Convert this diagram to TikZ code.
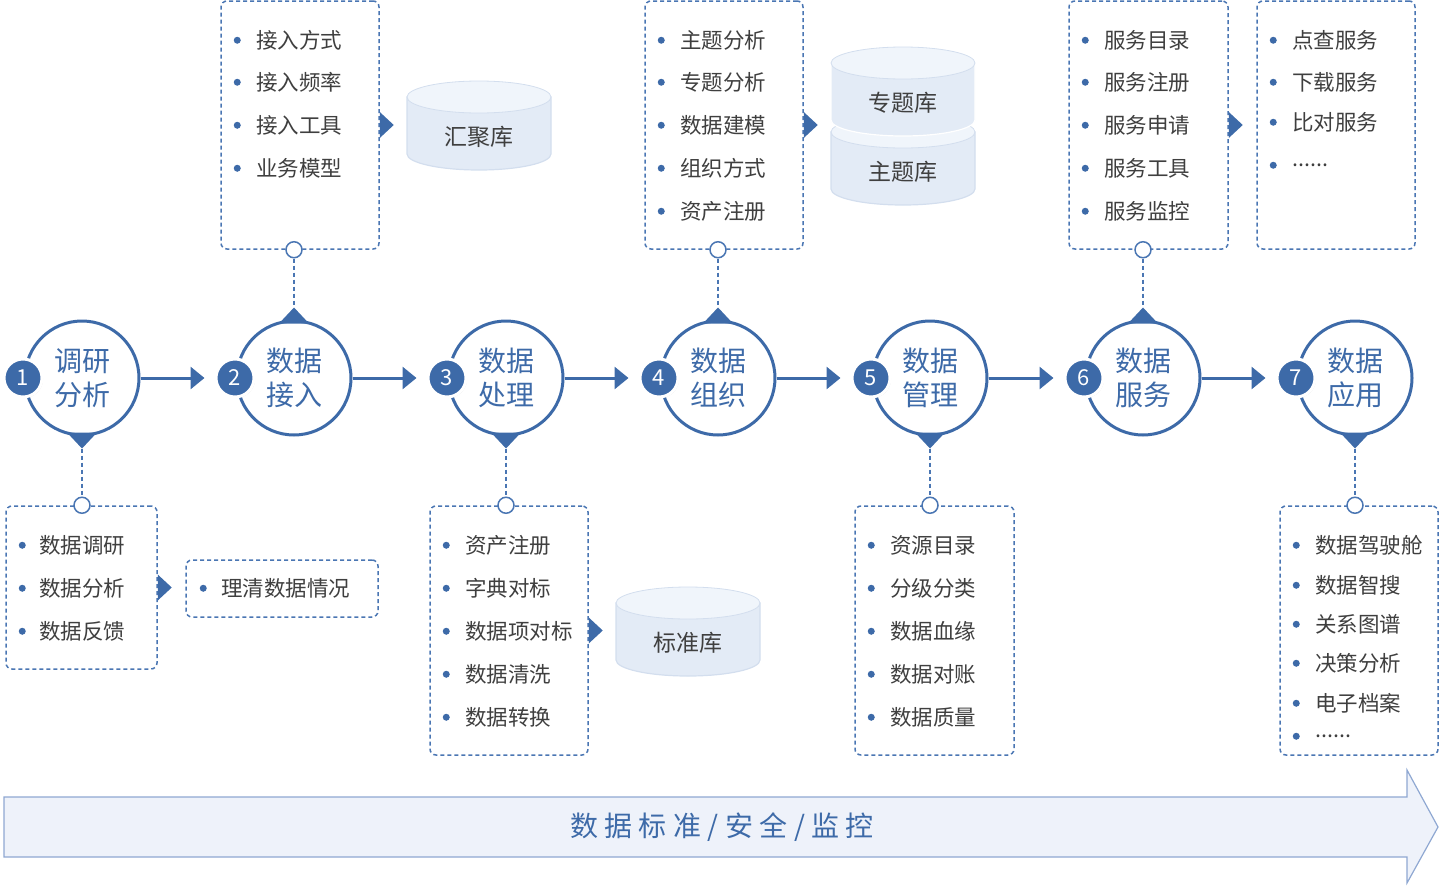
\documentclass[tikz,border=0pt]{standalone}
\usepackage{fontspec}
\setmainfont{Noto Sans CJK SC}
\newfontfamily\titlefont[LetterSpace=23]{Noto Sans CJK SC}
\usetikzlibrary{calc,arrows.meta,shadows}
\definecolor{mainblue}{HTML}{3D6AA8}
\definecolor{dashblue}{HTML}{4A76B3}
\definecolor{itemgray}{HTML}{3F3F3F}
\definecolor{cylbody}{HTML}{E3EBF6}
\definecolor{cyltop}{HTML}{F0F5FB}
\definecolor{cyledge}{HTML}{D3DEEE}
\definecolor{bandfill}{HTML}{EEF2FA}
\definecolor{bandedge}{HTML}{8FA8D2}
\newcommand{\more}{......}

\tikzset{
  stage/.style={circle, draw=mainblue, line width=3pt, fill=white, minimum size=114pt, inner sep=0pt,
    text=mainblue, align=center, font=\fontsize{28}{34}\selectfont},
  badge/.style={circle, fill=mainblue, draw=white, line width=3pt, minimum size=38pt, inner sep=0pt,
    text=white, font=\fontsize{22}{22}\selectfont, drop shadow={opacity=.3, shadow xshift=1pt, shadow yshift=-1pt}},
  dbox/.style={draw=dashblue, dash pattern=on 4pt off 3pt, line width=1.5pt, rounded corners=6pt,
    fill=white, inner sep=0pt},
  item/.style={anchor=west, inner sep=0pt, text=itemgray, font=\fontsize{21.5}{21.5}\selectfont},
  knob/.style={circle, draw=dashblue, fill=white, line width=1.5pt, minimum size=16pt, inner sep=0pt},
  dline/.style={draw=dashblue, dash pattern=on 4pt off 3pt, line width=1.5pt},
  flow/.style={draw=mainblue, line width=3pt, -{Triangle[length=14pt,width=22pt]}},
  dbtext/.style={text=itemgray, inner sep=0pt, font=\fontsize{23}{23}\selectfont},
}

\begin{document}
\begin{tikzpicture}[x=1pt,y=-1pt]
\useasboundingbox (0,0) rectangle (1440,886);

% band at the bottom
\draw[fill=bandfill, draw=bandedge, line width=1.2pt] (4,797) -- (1407,797) -- (1407,770) -- (1438,827)
  -- (1407,883) -- (1407,857) -- (4,857) -- cycle;
\node[text=mainblue, font=\titlefont\fontsize{28}{28}\selectfont] (band) at (722,827) {数据标准/安全/监控};

% stages
\foreach \i/\x/\txt in {1/82/调研\\分析, 2/294/数据\\接入, 3/506/数据\\处理, 4/718/数据\\组织,
                        5/930/数据\\管理, 6/1143/数据\\服务, 7/1355/数据\\应用}{
  \node[stage] (c\i) at (\x,378) {\txt};
  \node[badge] (n\i) at (\x-59,378) {\i};
}
\foreach \i/\j in {1/2,2/3,3/4,4/5,5/6,6/7}
  \draw[flow, shorten >=10pt] (c\i.east) -- (n\j.west);

% markers under and over the stages
\foreach \i in {1,3,5,7}{
  \fill[mainblue] ($(c\i.south)+(-15,-4)$) -- ($(c\i.south)+(15,-4)$) -- ($(c\i.south)+(0,12)$) -- cycle;
  \coordinate (t\i) at ($(c\i.south)+(0,12)$);
}
\foreach \i in {2,4,6}{
  \fill[mainblue] ($(c\i.north)+(-15,4)$) -- ($(c\i.north)+(15,4)$) -- ($(c\i.north)+(0,-12)$) -- cycle;
  \coordinate (t\i) at ($(c\i.north)+(0,-12)$);
}

% boxes above
\node[dbox, minimum width=158pt, minimum height=248pt] (box2) at (300,125) {};
\node[dbox, minimum width=158pt, minimum height=248pt] (box4) at (724,125) {};
\node[dbox, minimum width=159pt, minimum height=248pt] (box6) at (1148.5,125) {};
\node[dbox, minimum width=158pt, minimum height=248pt] (box6b) at (1336,125) {};
% boxes below
\node[dbox, minimum width=151pt, minimum height=163pt] (box1) at (81.5,587.5) {};
\node[dbox, minimum width=192pt, minimum height=57pt] (box1b) at (282,588.5) {};
\node[dbox, minimum width=158pt, minimum height=249pt] (box3) at (509,630.5) {};
\node[dbox, minimum width=159pt, minimum height=249pt] (box5) at (934.5,630.5) {};
\node[dbox, minimum width=158pt, minimum height=249pt] (box7) at (1359,630.5) {};

% dashed links
\foreach \i in {2,4,6}{
  \node[knob] (k\i) at (c\i |- box\i.south) {};
  \draw[dline] (k\i.south) -- (t\i);
}
\foreach \i in {1,3,5,7}{
  \node[knob] (k\i) at (c\i |- box\i.north) {};
  \draw[dline] (t\i) -- (k\i.north);
}

% items
\foreach \b/\t/\yy in {box2/接入方式/40, box2/接入频率/82, box2/接入工具/125, box2/业务模型/168,
    box4/主题分析/40, box4/专题分析/82, box4/数据建模/125, box4/组织方式/168, box4/资产注册/211,
    box6/服务目录/40, box6/服务注册/82, box6/服务申请/125, box6/服务工具/168, box6/服务监控/211,
    box6b/点查服务/40, box6b/下载服务/82, box6b/比对服务/122, box6b/\more/165,
    box3/资产注册/40, box3/字典对标/83, box3/数据项对标/126, box3/数据清洗/169, box3/数据转换/212,
    box5/资源目录/40, box5/分级分类/83, box5/数据血缘/126, box5/数据对账/169, box5/数据质量/212,
    box7/数据驾驶舱/40, box7/数据智搜/80, box7/关系图谱/119, box7/决策分析/158, box7/电子档案/198, box7/\more/231}{
  \fill[mainblue] ($(\b.north west)+(17,\yy)$) circle (3.5pt);
  \node[item] (\b-\yy) at ($(\b.north west)+(36,\yy)$) {\t};
}
\foreach \t/\yy in {数据调研/40, 数据分析/83, 数据反馈/126}{
  \fill[mainblue] ($(box1.north west)+(17,\yy)$) circle (3.5pt);
  \node[item] (box1-\yy) at ($(box1.north west)+(34,\yy)$) {\t};
}
\fill[mainblue] ($(box1b.north west)+(18,29)$) circle (3.5pt);
\node[item] (box1b-1) at ($(box1b.north west)+(36,29)$) {理清数据情况};

% side pointers
\foreach \b in {box1,box2,box3,box4,box6}
  \fill[mainblue] ($(\b.east)+(0,-13)$) -- ($(\b.east)+(0,13)$) -- ($(\b.east)+(14,0)$) -- cycle;

% databases (x of centre, y of top)
\foreach \nm/\cx/\top/\txt/\edge in {hub/479/81/汇聚库/cyledge, std/688/587/标准库/cyledge,
                                     main/903/116/主题库/cyledge, topic/903/47/专题库/white}{
  \filldraw[fill=cylbody, draw=\edge, line width=1.2pt] (\cx-72,\top+16) -- (\cx-72,\top+73)
    arc[start angle=180, end angle=360, x radius=72pt, y radius=16pt] -- (\cx+72,\top+16) -- cycle;
  \filldraw[fill=cyltop, draw=cyledge, line width=0.8pt] (\cx,\top+16) ellipse [x radius=72pt, y radius=16pt];
  \node[dbtext] (\nm) at (\cx,\top+56) {\txt};
}
\end{tikzpicture}
\end{document}
